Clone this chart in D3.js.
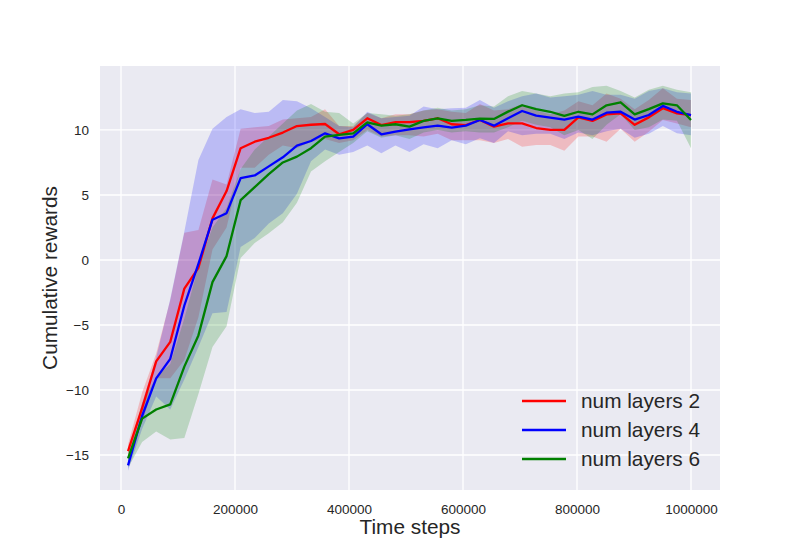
<!DOCTYPE html>
<html>
<head>
<meta charset="utf-8">
<script src="https://cdn.jsdelivr.net/npm/d3@7"></script>
<style>
  body { margin: 0; background: #fff; }
  svg { display: block; font-family: "Liberation Sans", Arial, sans-serif; }
</style>
</head>
<body>
<div id="chart"></div>
<script>
// time steps: 41 evaluation points, last one at 1e6
const steps = d3.range(41).map(i => Math.round((2 * i + 1) * 1000000 / 81));

const seriesNames = ["num layers 2", "num layers 4", "num layers 6"];
const seriesColors = ["#ff0000", "#0000ff", "#008000"];

const mean2 = [-14.7, -11.4, -7.8, -6.3, -2.2, -0.6, 3.2, 5.3, 8.6, 9.1,
  9.4, 9.8, 10.3, 10.4, 10.46, 9.67, 10.0, 10.9, 10.38, 10.6,
  10.6, 10.7, 10.9, 10.44, 10.38, 10.77, 10.26, 10.5, 10.5, 10.15,
  10.0, 10.0, 10.97, 10.7, 11.2, 11.28, 10.4, 10.97, 11.67, 11.28, 11.15];
const upper2 = [-14.2, -10.2, -7.2, -3.1, 2.1, 2.3, 6.2, 5.8, 10.1, 10.2,
  10.3, 10.8, 10.9, 11.0, 11.6, 10.3, 10.3, 11.3, 10.9, 11.2,
  11.2, 11.5, 11.6, 11.4, 11.3, 12.0, 11.5, 11.6, 12.0, 11.5,
  11.2, 11.5, 12.2, 11.9, 12.8, 12.4, 11.6, 12.3, 13.2, 12.4, 12.3];
const lower2 = [-15.2, -12.5, -9.1, -9.1, -7.7, -4.4, 0.8, 2.5, 7.1, 7.1,
  8.1, 8.8, 8.6, 9.1, 9.3, 9.0, 9.2, 10.0, 9.5, 9.6,
  9.6, 9.5, 9.7, 9.2, 9.2, 9.2, 9.0, 9.3, 8.7, 8.85,
  8.85, 8.4, 9.5, 9.5, 9.1, 10.1, 9.1, 9.87, 10.77, 10.5, 10.2];

const mean4 = [-15.8, -12.0, -9.1, -7.6, -3.5, -0.3, 3.1, 3.6, 6.3, 6.5,
  7.2, 7.9, 8.8, 9.15, 9.74, 9.36, 9.49, 10.44, 9.67, 9.87,
  10.05, 10.2, 10.33, 10.18, 10.33, 10.77, 10.33, 10.9, 11.46, 11.1,
  10.95, 10.8, 11.03, 10.8, 11.33, 11.4, 10.8, 11.15, 11.85, 11.4, 11.15];
const upper4 = [-15.3, -11.0, -7.5, -3.0, 2.2, 7.7, 10.1, 11.0, 11.6, 11.3,
  11.4, 12.3, 12.2, 11.67, 11.0, 10.3, 10.2, 11.4, 10.9, 11.0,
  11.1, 11.8, 11.6, 11.67, 11.7, 12.3, 11.7, 12.2, 12.6, 12.8,
  12.5, 12.6, 12.7, 13.0, 12.7, 12.7, 12.4, 13.0, 13.2, 12.9, 12.8];
const lower4 = [-16.2, -13.0, -10.5, -11.5, -9.2, -6.7, -4.1, -4.0, 1.0, 1.7,
  2.8, 3.6, 5.1, 7.6, 8.5, 8.1, 8.3, 8.8, 8.2, 8.8,
  8.3, 8.9, 8.6, 9.2, 8.9, 9.36, 9.0, 9.9, 9.6, 9.7,
  9.7, 9.3, 9.8, 9.6, 9.9, 10.1, 9.4, 9.7, 10.3, 9.74, 9.6];

const mean6 = [-15.26, -12.2, -11.5, -11.1, -8.2, -5.8, -1.7, 0.3, 4.6, 5.6,
  6.6, 7.5, 7.95, 8.6, 9.49, 9.62, 9.74, 10.59, 10.33, 10.44,
  10.26, 10.7, 10.9, 10.7, 10.77, 10.87, 10.85, 11.41, 11.9, 11.6,
  11.4, 11.08, 11.4, 11.2, 11.9, 12.13, 11.2, 11.6, 12.05, 11.9, 10.77];
const upper6 = [-14.8, -11.0, -9.0, -8.0, -4.5, -0.5, 2.5, 4.0, 7.0, 8.5,
  9.5, 10.5, 11.5, 12.0, 11.4, 11.3, 10.5, 11.3, 11.2, 11.1,
  11.2, 11.5, 11.7, 11.5, 11.6, 11.9, 11.8, 12.6, 13.0, 12.8,
  12.6, 12.8, 12.9, 13.3, 13.4, 13.0, 12.5, 13.1, 13.4, 13.1, 12.9];
const lower6 = [-16.0, -14.0, -13.2, -13.8, -13.7, -10.3, -6.7, -5.1, 0.15, 1.3,
  2.05, 2.9, 4.4, 6.8, 7.6, 8.3, 9.0, 9.9, 9.4, 9.6,
  9.3, 9.8, 10.0, 9.8, 9.9, 9.8, 9.8, 10.2, 10.7, 10.4,
  10.2, 9.6, 10.0, 9.3, 10.4, 11.2, 10.0, 10.2, 10.8, 10.7, 8.6];

const xTicks = [0, 200000, 400000, 600000, 800000, 1000000];
const yTicks = [-15, -10, -5, 0, 5, 10];

const width = 800, height = 550;
const margin = {top: 66, right: 80, bottom: 60, left: 100};

const svg = d3.select("#chart").append("svg")
    .attr("width", width)
    .attr("height", height);

const x = d3.scaleLinear()
    .domain([-36842, 1050877])
    .range([margin.left, width - margin.right]);

const y = d3.scaleLinear()
    .domain([-17.69, 14.92])
    .range([height - margin.bottom, margin.top]);

// background
svg.append("rect")
    .attr("x", margin.left)
    .attr("y", margin.top)
    .attr("width", width - margin.left - margin.right)
    .attr("height", height - margin.top - margin.bottom)
    .attr("fill", "#eaeaf2");

// grid
svg.append("g")
    .selectAll("line")
    .data(xTicks)
    .join("line")
    .attr("x1", d => x(d)).attr("x2", d => x(d))
    .attr("y1", margin.top).attr("y2", height - margin.bottom)
    .attr("stroke", "#fff").attr("stroke-width", 1.3);

svg.append("g")
    .selectAll("line")
    .data(yTicks)
    .join("line")
    .attr("x1", margin.left).attr("x2", width - margin.right)
    .attr("y1", d => y(d)).attr("y2", d => y(d))
    .attr("stroke", "#fff").attr("stroke-width", 1.3);

// axes, no tick marks (seaborn darkgrid)
const fmtY = d => d < 0 ? "\u2212" + Math.abs(d) : String(d);

svg.append("g")
    .attr("transform", `translate(0,${height - margin.bottom})`)
    .call(d3.axisBottom(x).tickValues(xTicks).tickFormat(d => String(d)).tickSize(0).tickPadding(14))
    .call(g => g.select(".domain").remove())
    .call(g => g.selectAll("text")
        .attr("fill", "#262626")
        .attr("font-size", "13.5px")
        .attr("font-family", "Liberation Sans, Arial, sans-serif"));

svg.append("g")
    .attr("transform", `translate(${margin.left},0)`)
    .call(d3.axisLeft(y).tickValues(yTicks).tickFormat(fmtY).tickSize(0).tickPadding(11))
    .call(g => g.select(".domain").remove())
    .call(g => g.selectAll("text")
        .attr("fill", "#262626")
        .attr("font-size", "13.5px")
        .attr("font-family", "Liberation Sans, Arial, sans-serif"));

// axis titles
svg.append("text")
    .attr("x", (margin.left + width - margin.right) / 2)
    .attr("y", 534)
    .attr("text-anchor", "middle")
    .attr("fill", "#262626")
    .attr("font-size", "20.8px")
    .text("Time steps");

svg.append("text")
    .attr("transform", `translate(57,${(margin.top + height - margin.bottom) / 2}) rotate(-90)`)
    .attr("text-anchor", "middle")
    .attr("fill", "#262626")
    .attr("font-size", "20.8px")
    .text("Cumulative rewards");

// series
const series = [
    {mean: mean2, upper: upper2, lower: lower2},
    {mean: mean4, upper: upper4, lower: lower4},
    {mean: mean6, upper: upper6, lower: lower6}
];

const area = d3.area()
    .x((d, i) => x(steps[i]))
    .y0(d => y(d[0]))
    .y1(d => y(d[1]));

const line = d3.line()
    .x((d, i) => x(steps[i]))
    .y(d => y(d));

const plot = svg.append("g");

series.forEach((s, k) => {
    plot.append("path")
        .datum(s.lower.map((v, i) => [v, s.upper[i]]))
        .attr("d", area)
        .attr("fill", seriesColors[k])
        .attr("fill-opacity", 0.2);
});

series.forEach((s, k) => {
    plot.append("path")
        .datum(s.mean)
        .attr("d", line)
        .attr("fill", "none")
        .attr("stroke", seriesColors[k])
        .attr("stroke-width", 2.3)
        .attr("stroke-linejoin", "round");
});

// legend (no frame)
const legend = svg.append("g");
seriesNames.forEach((name, k) => {
    const ly = 401 + k * 29;
    legend.append("line")
        .attr("x1", 522).attr("x2", 566)
        .attr("y1", ly).attr("y2", ly)
        .attr("stroke", seriesColors[k])
        .attr("stroke-width", 2.3);
    legend.append("text")
        .attr("x", 581)
        .attr("y", ly + 7)
        .attr("fill", "#262626")
        .attr("font-size", "20.8px")
        .text(name);
});
</script>
</body>
</html>
